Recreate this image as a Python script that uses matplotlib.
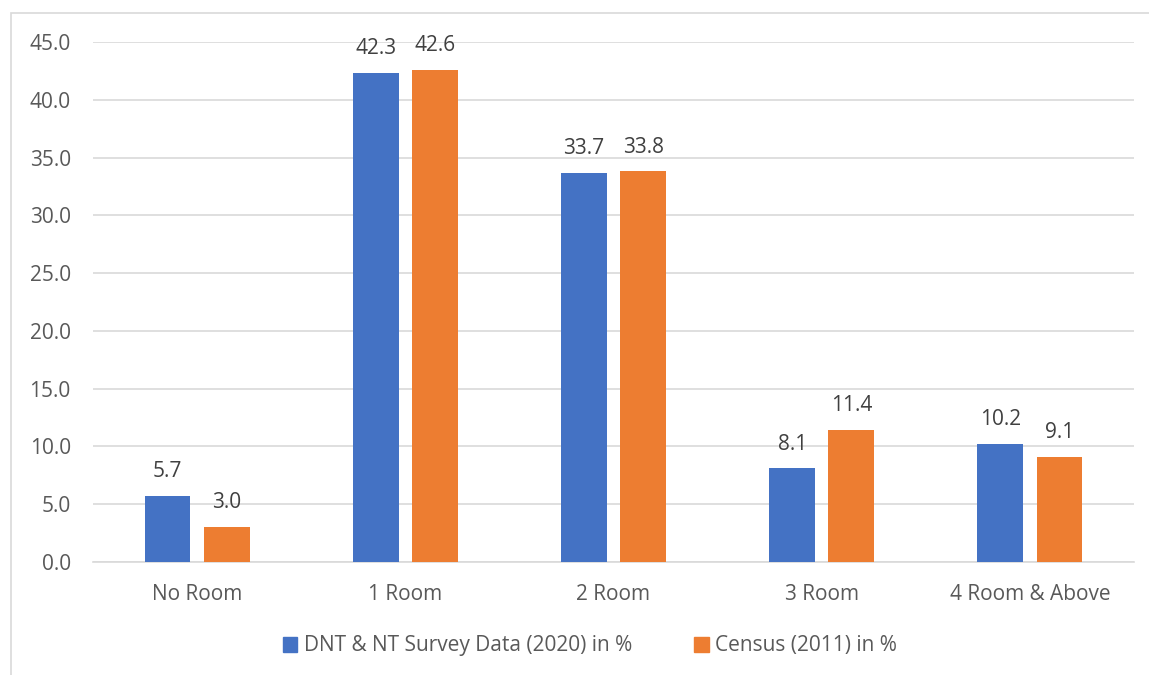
import matplotlib
matplotlib.use("Agg")
import matplotlib.pyplot as plt
import numpy as np
from matplotlib.patches import Rectangle, Patch

categories = ["No Room", "1 Room", "2 Room", "3 Room", "4 Room & Above"]
survey_2020 = [5.7, 42.3, 33.7, 8.1, 10.2]
census_2011 = [3.0, 42.6, 33.8, 11.4, 9.1]
series_names = ["DNT & NT Survey Data (2020) in %", "Census (2011) in %"]
yticks = [0, 5, 10, 15, 20, 25, 30, 35, 40, 45]

plt.rcParams['font.family'] = ['Open Sans', 'DejaVu Sans']
txt = '#595959'
blue = '#4472C4'
orange = '#ED7D31'
fs = 15

fig = plt.figure(figsize=(11.49, 6.75), dpi=100)
fig.patches.append(Rectangle((11/1149, -0.1), 1.2, 1 - 13/675 + 0.1,
                             transform=fig.transFigure, fill=False,
                             edgecolor='#D9D9D9', linewidth=1.2, zorder=0))
ax = fig.add_axes([93/1149, 1 - 562/675, (1134 - 93)/1149, (562 - 42)/675])

x = np.arange(len(categories))
w = 0.22
off = 0.142
b1 = ax.bar(x - off, survey_2020, w, color=blue, zorder=3)
b2 = ax.bar(x + off, census_2011, w, color=orange, zorder=3)
for bars, vals in ((b1, survey_2020), (b2, census_2011)):
    for r, v in zip(bars, vals):
        ax.annotate(f"{v:.1f}", (r.get_x() + r.get_width()/2, v),
                    xytext=(0, 10), textcoords='offset points',
                    ha='center', va='bottom', fontsize=fs, color='#404040')

ax.set_xlim(-0.5, len(categories) - 0.5)
ax.set_ylim(0, 45)
ax.set_yticks(yticks)
ax.set_yticklabels([f"{t:.1f}" for t in yticks])
ax.set_xticks(x)
ax.set_xticklabels(categories)
ax.tick_params(axis='both', length=0, labelsize=fs, colors=txt)
ax.tick_params(axis='y', pad=16)
ax.tick_params(axis='x', pad=16)
ax.grid(axis='y', color='#D9D9D9', linewidth=1.2, zorder=0)
for s in ['top', 'right', 'left']:
    ax.spines[s].set_visible(False)
ax.spines['bottom'].set_color('#D9D9D9')
ax.spines['bottom'].set_linewidth(1.2)

handles = [Patch(color=blue), Patch(color=orange)]
fig.legend(handles, series_names, loc='center', bbox_to_anchor=(590/1149, 1 - 646/675),
           ncol=2, frameon=False, fontsize=fs, labelcolor=txt,
           handlelength=0.7, handleheight=0.7, handletextpad=0.3, columnspacing=3.0)

fig.savefig("out.png", dpi=100)
